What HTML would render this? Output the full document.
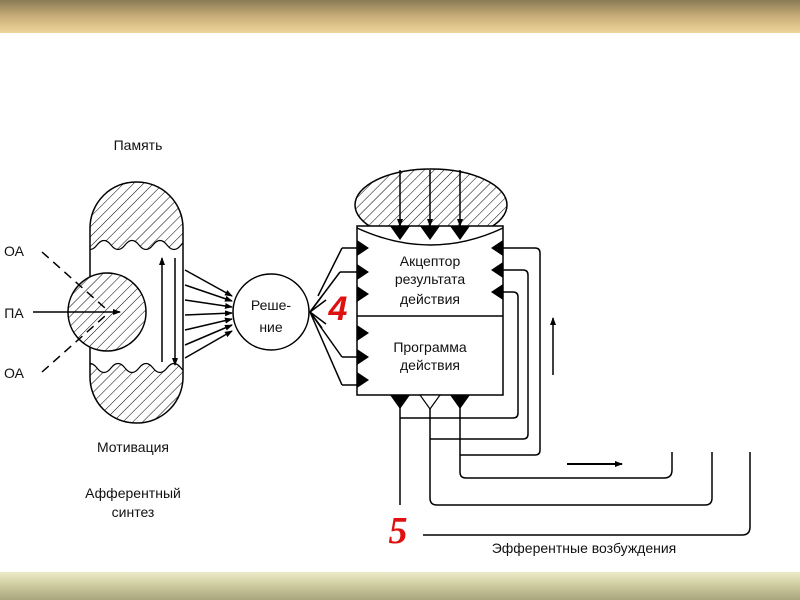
<!DOCTYPE html>
<html><head><meta charset="utf-8"><style>
body{margin:0;width:800px;height:600px;overflow:hidden;background:#fff;font-family:"Liberation Sans",sans-serif}
.top{position:absolute;left:0;top:0;width:800px;height:33px;background:linear-gradient(#8a7a55,#c8ae78 50%,#f0d59a)}
.bot{position:absolute;left:0;top:572px;width:800px;height:28px;background:linear-gradient(#ecebc8,#d4d0a6 40%,#a9a57c)}
svg{position:absolute;left:0;top:0}
</style></head><body>
<div class="top"></div><div class="bot"></div>
<svg width="800" height="600" viewBox="0 0 800 600" font-family="Liberation Sans, sans-serif">
<defs>
<pattern id="h" width="7" height="7" patternUnits="userSpaceOnUse" patternTransform="rotate(45)"><rect width="7" height="7" fill="#fff"/><line x1="0" y1="0" x2="0" y2="7" stroke="#000" stroke-width="1"/></pattern>
<marker id="a" markerWidth="8" markerHeight="8" refX="7" refY="4" orient="auto" markerUnits="userSpaceOnUse"><path d="M0,1 L8,4 L0,7z" fill="#000"/></marker>
<clipPath id="pill"><rect x="90" y="182" width="93" height="241" rx="46"/></clipPath>
</defs>
<g stroke="#000" stroke-width="1.5" fill="none">
<g clip-path="url(#pill)">
<path d="M80,170 H195 V245 Q188,236 181,245 T167,245 T153,245 T139,245 T125,245 T111,245 T97,245 T83,245z" fill="url(#h)" stroke-width="1.2"/>
<path d="M80,440 H195 V368 Q188,377 181,368 T167,368 T153,368 T139,368 T125,368 T111,368 T97,368 T83,368z" fill="url(#h)" stroke-width="1.2"/>
</g>
<rect x="90" y="182" width="93" height="241" rx="46"/>
<circle cx="107" cy="312" r="39" fill="url(#h)"/>
<line x1="42" y1="252" x2="105" y2="308" stroke-dasharray="9,6"/>
<line x1="42" y1="372" x2="105" y2="316" stroke-dasharray="9,6"/>
<line x1="33" y1="312" x2="120" y2="312" marker-end="url(#a)"/>
<line x1="162" y1="362" x2="162" y2="258" marker-end="url(#a)"/>
<line x1="175" y1="258" x2="175" y2="365" marker-end="url(#a)"/>
<g marker-end="url(#a)">
<line x1="185" y1="270" x2="232" y2="296"/><line x1="185" y1="285" x2="232" y2="301"/>
<line x1="185" y1="300" x2="232" y2="307"/><line x1="185" y1="315" x2="232" y2="313"/>
<line x1="185" y1="330" x2="232" y2="319"/><line x1="185" y1="345" x2="232" y2="325"/>
<line x1="185" y1="358" x2="232" y2="331"/>
</g>
<circle cx="271" cy="312" r="38"/>
<line x1="342" y1="248" x2="318" y2="296"/><line x1="340" y1="272" x2="310" y2="312"/>
<line x1="342" y1="357" x2="310" y2="312"/><line x1="342" y1="385" x2="310" y2="312"/>
<path d="M342,248 H357 M340,272 H357 M342,357 H357 M342,385 H357"/>
<path d="M326,300 L310,312 L326,324 M322,296 L310,312 M322,328 L310,312"/>
<ellipse cx="431" cy="205" rx="76" ry="36" fill="url(#h)"/>
<rect x="357" y="226" width="146" height="169" fill="#fff"/>
<path d="M357,228 Q431,262 503,228" />
<line x1="357" y1="316" x2="503" y2="316"/>
<line x1="400" y1="170" x2="400" y2="226" marker-end="url(#a)"/>
<line x1="430" y1="170" x2="430" y2="226" marker-end="url(#a)"/>
<line x1="460" y1="170" x2="460" y2="226" marker-end="url(#a)"/>
<path d="M503,248 H535 Q540,248 540,253 V450 Q540,455 535,455 H460"/>
<path d="M503,270 H523 Q528,270 528,275 V434 Q528,439 523,439 H430"/>
<path d="M503,292 H513 Q518,292 518,297 V413 Q518,418 513,418 H400"/>
<path d="M400,405 V505"/>
<path d="M430,405 V498 Q430,505 437,505 H705 Q712,505 712,498 V452"/>
<path d="M460,405 V472 Q460,478 466,478 H664 Q672,478 672,470 V452"/>
<path d="M423,535 H742 Q750,535 750,527 V452"/>
<line x1="567" y1="464" x2="622" y2="464" stroke-width="2" marker-end="url(#a)"/>
<line x1="553" y1="375" x2="553" y2="318" marker-end="url(#a)"/>
</g>
<g fill="#000">
<path d="M390,226 L410,226 L400,240z M420,226 L440,226 L430,240z M450,226 L470,226 L460,240z"/>
<path d="M357,240 L369,248 L357,256z M357,264 L369,272 L357,280z M357,286 L369,294 L357,302z M357,325 L369,333 L357,341z M357,349 L369,357 L357,365z M357,372 L369,380 L357,388z"/>
<path d="M503,240 L491,248 L503,256z M503,262 L491,270 L503,278z M503,284 L491,292 L503,300z"/>
<path d="M390,395 L410,395 L400,409z M450,395 L470,395 L460,409z"/>
</g>
<path d="M420,395 L440,395 L430,409z" fill="#fff" stroke="#000" stroke-width="1.2"/>
<g font-size="14" fill="#111" text-anchor="middle">
<text x="138" y="150">Память</text>
<text x="14" y="256">ОА</text><text x="14" y="318">ПА</text><text x="14" y="378">ОА</text>
<text x="133" y="452">Мотивация</text>
<text x="133" y="498">Афферентный</text><text x="133" y="517">синтез</text>
<text x="271" y="310">Реше-</text><text x="271" y="332">ние</text>
<text x="430" y="266">Акцептор</text><text x="430" y="284">результата</text><text x="430" y="304">действия</text>
<text x="430" y="352">Программа</text><text x="430" y="370">действия</text>
<text x="584" y="553">Эфферентные возбуждения</text>
</g>
<text x="338" y="320" font-size="34" font-weight="bold" font-style="italic" fill="#e01010" text-anchor="middle">4</text>
<text x="398" y="543" font-size="38" font-weight="bold" font-style="italic" font-family="Liberation Serif, serif" fill="#e01010" text-anchor="middle">5</text>
</svg>
</body></html>
